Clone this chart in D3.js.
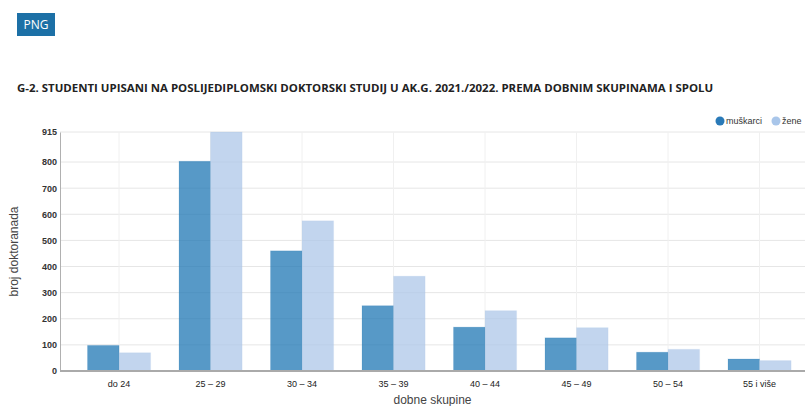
<!DOCTYPE html>
<html>
<head>
<meta charset="utf-8">
<script src="https://cdn.jsdelivr.net/npm/d3@7"></script>
<style>
	body { margin: 0; background: #fff; }
	svg { display: block; }
	.title { font-family: "Open Sans", sans-serif; font-weight: bold; font-size: 11.45px; fill: #222; }
	.tick text { font-family: Arial, "Liberation Sans", sans-serif; }
	.axis-title { font-family: Arial, "Liberation Sans", sans-serif; font-size: 12px; fill: #444; }
	.legend text { font-family: Arial, "Liberation Sans", sans-serif; font-size: 9px; fill: #333; }
</style>
</head>
<body>
<svg id="chart" width="809" height="406"></svg>
<script>
// data
var categories = ["do 24", "25 – 29", "30 – 34", "35 – 39", "40 – 44", "45 – 49", "50 – 54", "55 i više"];
var seriesNames = ["muškarci", "žene"];
var muskarci = [98, 803, 460, 250, 168, 127, 72, 46];
var zene = [70, 915, 575, 363, 231, 166, 83, 40];
var yTicks = [0, 100, 200, 300, 400, 500, 600, 700, 800, 915];

var svg = d3.select("#chart");

// PNG button
svg.append("rect")
	.attr("x", 17).attr("y", 13)
	.attr("width", 38).attr("height", 23)
	.attr("fill", "#1c70a6");
svg.append("text")
	.attr("x", 36).attr("y", 29)
	.attr("text-anchor", "middle")
	.attr("fill", "#fff")
	.style("font-family", "'Open Sans', sans-serif")
	.style("font-size", "12px")
	.text("PNG");

svg.append("text")
	.attr("class", "title")
	.attr("x", 17).attr("y", 92)
	.text("G-2. STUDENTI UPISANI NA POSLIJEDIPLOMSKI DOKTORSKI STUDIJ U AK.G. 2021./2022. PREMA DOBNIM SKUPINAMA I SPOLU");

// plot area (don't call it "top", window.top is taken)
var pLeft = 60, pRight = 805, pTop = 132, pBottom = 371;

var x0 = d3.scaleBand()
	.domain(categories)
	.range([73.3, 805.3]);

var x1 = d3.scaleBand()
	.domain(seriesNames)
	.range([0, x0.bandwidth()])
	.paddingOuter(0.45);

var y = d3.scaleLinear()
	.domain([0, 915])
	.range([pBottom, pTop]);

var color = d3.scaleOrdinal()
	.domain(seriesNames)
	.range(["#1f77b4", "#aec7e8"]);

// horizontal grid
svg.append("g")
	.selectAll("line")
	.data(yTicks.filter(d => d > 0))
	.enter().append("line")
		.attr("x1", pLeft).attr("x2", pRight)
		.attr("y1", d => y(d)).attr("y2", d => y(d))
		.attr("stroke", "#e6e6e6")
		.attr("stroke-width", 1);

// vertical grid at category centres
svg.append("g")
	.selectAll("line")
	.data(categories)
	.enter().append("line")
		.attr("x1", d => x0(d) + x0.bandwidth() / 2)
		.attr("x2", d => x0(d) + x0.bandwidth() / 2)
		.attr("y1", pTop).attr("y2", pBottom)
		.attr("stroke", "#f0f0f0")
		.attr("stroke-width", 1);

// bars
var rows = categories.map((c, i) => ({cat: c, values: [
	{key: seriesNames[0], value: muskarci[i]},
	{key: seriesNames[1], value: zene[i]}
]}));

svg.append("g")
	.selectAll("g")
	.data(rows)
	.enter().append("g")
		.attr("transform", d => `translate(${x0(d.cat)},0)`)
	.selectAll("rect")
	.data(d => d.values)
	.enter().append("rect")
		.attr("x", d => x1(d.key))
		.attr("y", d => y(d.value))
		.attr("width", x1.bandwidth())
		.attr("height", d => pBottom - y(d.value))
		.attr("fill", d => color(d.key))
		.attr("fill-opacity", 0.75)
		.attr("stroke", d => color(d.key))
		.attr("stroke-opacity", 0.15);

// y axis
var yAxis = svg.append("g")
	.attr("transform", `translate(${pLeft},0)`)
	.call(d3.axisLeft(y).tickValues(yTicks).tickSize(0).tickPadding(3));
yAxis.select(".domain").attr("stroke", "#b0b0b0");
yAxis.selectAll("text")
	.style("font-size", "9px")
	.style("font-weight", "bold")
	.attr("fill", "#333");

// x axis
var xAxis = svg.append("g")
	.attr("transform", `translate(0,${pBottom})`)
	.call(d3.axisBottom(x0).tickSize(0).tickPadding(10));
xAxis.select(".domain").remove();
xAxis.selectAll("text")
	.style("font-size", "9px")
	.attr("fill", "#222");
svg.append("line")
	.attr("x1", pLeft).attr("x2", pRight)
	.attr("y1", pBottom).attr("y2", pBottom)
	.attr("stroke", "#aaaaaa")
	.attr("stroke-width", 2);

// axis titles
svg.append("text")
	.attr("class", "axis-title")
	.attr("transform", `translate(18,${(pTop + pBottom) / 2}) rotate(-90)`)
	.attr("text-anchor", "middle")
	.text("broj doktoranada");

svg.append("text")
	.attr("class", "axis-title")
	.attr("x", (pLeft + pRight) / 2).attr("y", 404)
	.attr("text-anchor", "middle")
	.text("dobne skupine");

// legend
var legendX = [720, 776];
var legend = svg.append("g").attr("class", "legend")
	.selectAll("g")
	.data(seriesNames)
	.enter().append("g")
		.attr("transform", (d, i) => `translate(${legendX[i]},121)`);
legend.append("circle")
	.attr("r", 4.5)
	.attr("fill", (d, i) => i == 0 ? "#2a7ab8" : "#a9c6ea");
legend.append("text")
	.attr("x", 6).attr("y", 3)
	.text(d => d);
</script>
</body>
</html>
